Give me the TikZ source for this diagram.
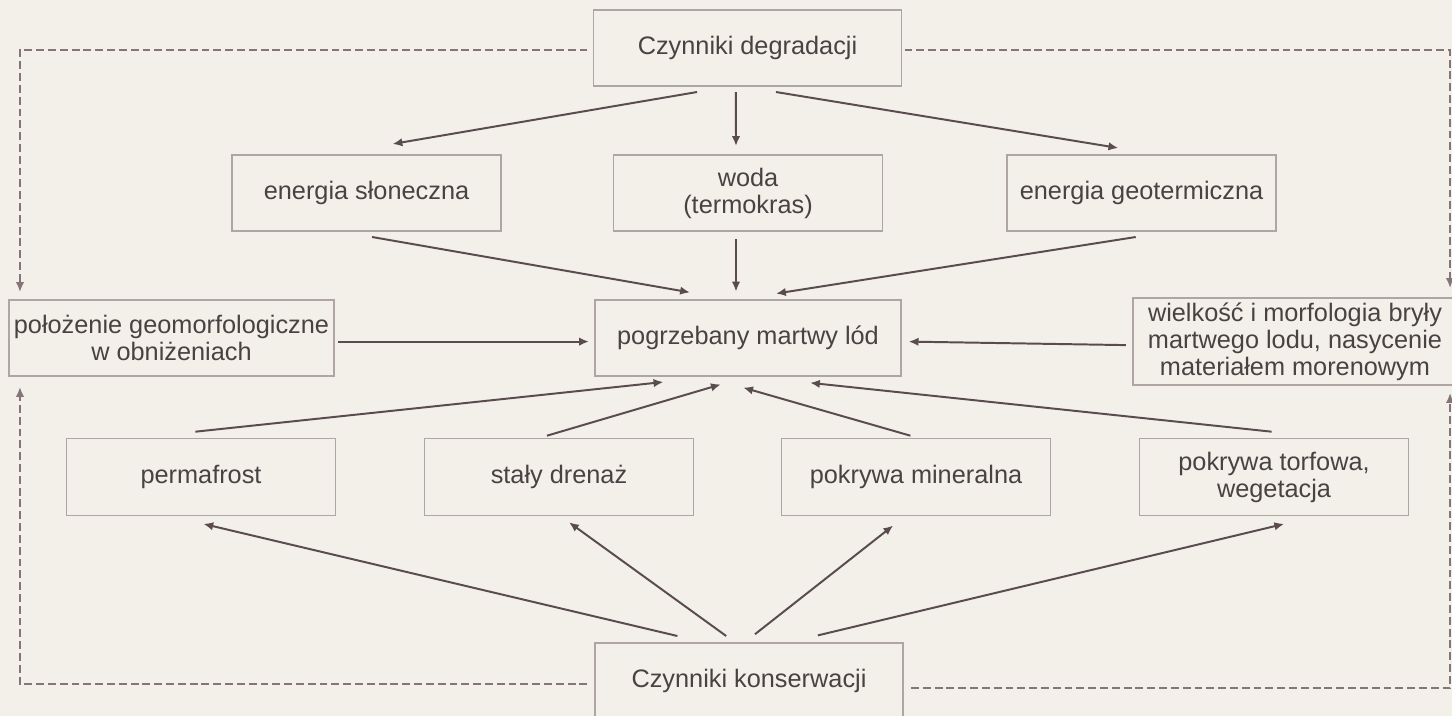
\documentclass[tikz,border=0pt]{standalone}
\usepackage{fontspec}
\setmainfont{Liberation Sans}
\usetikzlibrary{arrows.meta}

\definecolor{paper}{HTML}{F2F0E9}
\definecolor{boxline}{HTML}{AFA5A5}
\definecolor{boxtext}{HTML}{4A4242}
\definecolor{arrowcol}{HTML}{5A4C4E}
\definecolor{dashcol}{HTML}{857478}

\begin{document}
\begin{tikzpicture}[x=0.025cm, y=-0.025cm,
	>={Latex[length=7pt,width=6pt]},
	box/.style={shape=rectangle, draw=boxline, line width=1.1pt, text=boxtext,
		align=center, inner sep=0pt, outer sep=0pt,
		minimum width=6.725cm, minimum height=1.9cm,
		font=\fontsize{18}{19.2}\selectfont},
	arr/.style={arrowcol, line width=1.4pt},
	feedback/.style={draw=dashcol, line width=1.3pt, dash pattern=on 5.6pt off 2.8pt}]
	
	\useasboundingbox (0,0) rectangle (1452,716);
	\clip (0,0) rectangle (1452,716);
	\fill[paper] (0,0) rectangle (1452,716);
	
	\node[box, minimum width=7.7cm] (degr) at (747.5, 48) {Czynniki degradacji};
	\node[box] (slon) at (366.5, 193) {energia słoneczna};
	\node[box] (woda) at (748, 193) {woda\\(termokras)};
	\node[box] (geo) at (1141.5, 193) {energia geotermiczna};
	\node[box, minimum width=8.125cm] (polo) at (171.5, 338) {położenie geomorfologiczne\\w obniżeniach};
	\node[box, minimum width=7.65cm] (lod) at (748, 338) {pogrzebany martwy lód};
	\node[box, minimum width=8.1cm, minimum height=2.175cm] (wiel) at (1295, 341.5) {wielkość i morfologia bryły\\martwego lodu, nasycenie\\materiałem morenowym};
	\node[box, minimum height=1.925cm] (perm) at (201, 477) {permafrost};
	\node[box, minimum height=1.925cm] (dren) at (559, 477) {stały drenaż};
	\node[box, minimum height=1.925cm] (mine) at (916, 477) {pokrywa mineralna};
	\node[box, minimum height=1.925cm] (torf) at (1274, 477) {pokrywa torfowa,\\wegetacja};
	\node[box, minimum width=7.7cm, minimum height=1.875cm] (kons) at (749, 680.5) {Czynniki konserwacji};
	
	% degradacja
	\path[->, arr] ([xshift=-1.26cm, yshift=-0.15cm]degr.south) edge ([xshift=0.65cm, yshift=0.275cm]slon.north);
	\path[->, arr] ([xshift=-0.29cm, yshift=-0.15cm]degr.south) edge ([xshift=-0.3cm, yshift=0.225cm]woda.north);
	\path[->, arr] ([xshift=0.71cm, yshift=-0.15cm]degr.south) edge ([xshift=-0.58cm, yshift=0.175cm]geo.north);
	\path[->, arr] ([xshift=0.14cm, yshift=-0.15cm]slon.south) edge ([xshift=-1.45cm, yshift=0.19cm]lod.north);
	\path[->, arr] ([xshift=-0.3cm, yshift=-0.2cm]woda.south) edge ([xshift=-0.3cm, yshift=0.21cm]lod.north);
	\path[->, arr] ([xshift=-0.145cm, yshift=-0.15cm]geo.south) edge ([xshift=0.7cm, yshift=0.16cm]lod.north);
	
	% boczne
	\path[->, arr] ([xshift=0.09cm, yshift=-0.09cm]polo.east) edge ([xshift=-0.15cm, yshift=-0.09cm]lod.west);
	\path[->, arr] ([xshift=-0.18cm, yshift=-0.09cm]wiel.west) edge ([xshift=0.19cm, yshift=-0.09cm]lod.east);
	
	% konserwacja
	\path[->, arr] ([xshift=-0.14cm, yshift=0.17cm]perm.north) edge ([xshift=-2.115cm, yshift=-0.15cm]lod.south);
	\path[->, arr] ([xshift=-0.3cm, yshift=0.07cm]dren.north) edge ([xshift=-0.68cm, yshift=-0.21cm]lod.south);
	\path[->, arr] ([xshift=-0.14cm, yshift=0.07cm]mine.north) edge ([xshift=-0.12cm, yshift=-0.29cm]lod.south);
	\path[->, arr] ([xshift=-0.06cm, yshift=0.17cm]torf.north) edge ([xshift=1.55cm, yshift=-0.17cm]lod.south);
	\path[->, arr] ([xshift=-1.79cm, yshift=0.175cm]kons.north) edge ([xshift=0.06cm, yshift=-0.21cm]perm.south);
	\path[->, arr] ([xshift=-0.57cm, yshift=0.175cm]kons.north) edge ([xshift=0.25cm, yshift=-0.17cm]dren.south);
	\path[->, arr] ([xshift=0.15cm, yshift=0.22cm]kons.north) edge ([xshift=-0.57cm, yshift=-0.25cm]mine.south);
	\path[->, arr] ([xshift=1.72cm, yshift=0.19cm]kons.north) edge ([xshift=0.255cm, yshift=-0.21cm]torf.south);
	
	% sprzezenia (linie przerywane)
	\draw[->, feedback] ([xshift=-0.15cm, yshift=-0.05cm]degr.west) -| ([xshift=0.275cm, yshift=0.2cm]polo.north west);
	\draw[->, feedback] ([xshift=0.075cm, yshift=-0.05cm]degr.east) -| ([xshift=3.875cm, yshift=0.25cm]wiel.north);
	\draw[->, feedback] ([xshift=-0.19cm, yshift=-0.09cm]kons.west) -| ([xshift=0.275cm, yshift=-0.275cm]polo.south west);
	\draw[->, feedback] ([xshift=0.2cm, yshift=-0.19cm]kons.east) -| ([xshift=3.875cm, yshift=-0.2cm]wiel.south);
	
\end{tikzpicture}
\end{document}
